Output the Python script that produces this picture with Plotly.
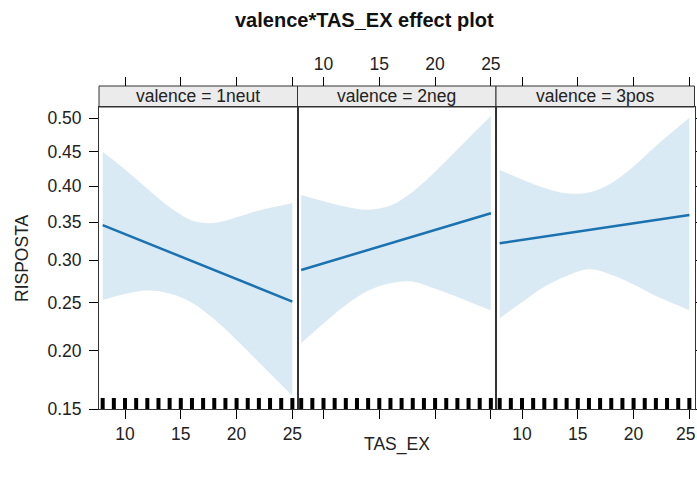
import numpy as np
import plotly.graph_objects as go

# TAS_EX grid where the fitted effect and its 95% band are shown
tas_grid = [8, 10, 12, 14, 16, 18, 20, 22, 24, 25]

# fitted probability of RISPOSTA and confidence limits, by valence level
fit_neut = [0.3459, 0.3338, 0.3219, 0.3104, 0.2990, 0.2878, 0.2769, 0.2664, 0.2560, 0.2509]
low_neut = [0.2528, 0.2596, 0.2635, 0.2602, 0.2497, 0.2315, 0.2103, 0.1891, 0.1694, 0.1603]
upp_neut = [0.4502, 0.4243, 0.3965, 0.3705, 0.3521, 0.3487, 0.3564, 0.3659, 0.3726, 0.3761]

fit_neg = [0.2880, 0.2963, 0.3047, 0.3130, 0.3217, 0.3305, 0.3394, 0.3482, 0.3573, 0.3619]
low_neg = [0.2072, 0.2272, 0.2471, 0.2633, 0.2719, 0.2739, 0.2656, 0.2560, 0.2460, 0.2412]
upp_neg = [0.3875, 0.3787, 0.3710, 0.3670, 0.3726, 0.3922, 0.4209, 0.4536, 0.4870, 0.5035]

fit_pos = [0.3217, 0.3261, 0.3305, 0.3349, 0.3394, 0.3437, 0.3482, 0.3528, 0.3573, 0.3596]
low_pos = [0.2327, 0.2501, 0.2678, 0.2807, 0.2888, 0.2823, 0.2707, 0.2573, 0.2466, 0.2412]
upp_pos = [0.4236, 0.4095, 0.3975, 0.3901, 0.3910, 0.4044, 0.4285, 0.4586, 0.4868, 0.5008]

# observed TAS_EX values (rug)
tas_obs = [8, 9, 10, 11, 12, 13, 14, 15, 16, 17, 18, 19, 20, 21, 22, 23, 24, 25]

valence_levels = ["1neut", "2neg", "3pos"]
x_ticks = [10, 15, 20, 25]
y_ticks = [0.15, 0.20, 0.25, 0.30, 0.35, 0.40, 0.45, 0.50]
y_tick_text = ["0.15", "0.20", "0.25", "0.30", "0.35", "0.40", "0.45", "0.50"]


def logit(p):
    p = np.asarray(p, dtype=float)
    return np.log(p / (1 - p))


W, H = 697, 479
FONT = "Liberation Sans, Arial, sans-serif"
FS = 17.5
TXT = "#222222"
LINE_COL = "#1a72b0"
BAND_COL = "rgba(0,114,178,0.15)"
BORDER = "#333333"

x_range = [7.67, 25.46]
y_range = [float(logit(0.15)), float(logit(0.5168))]
rug_len = 0.0656

panel_px = [(99, 297.5), (297.5, 496), (496, 694.5)]
plot_top, plot_bot, strip_top = 107, 409, 86

series = [
    (fit_neut, low_neut, upp_neut),
    (fit_neg, low_neg, upp_neg),
    (fit_pos, low_pos, upp_pos),
]

fig = go.Figure()

for i, (fit, low, upp) in enumerate(series):
    xa = "x" if i == 0 else f"x{i + 1}"
    ya = "y" if i == 0 else f"y{i + 1}"
    fig.add_trace(go.Scatter(
        x=tas_grid, y=logit(upp), mode="lines", line=dict(width=0, shape="spline"),
        hoverinfo="skip", showlegend=False, xaxis=xa, yaxis=ya))
    fig.add_trace(go.Scatter(
        x=tas_grid, y=logit(low), mode="lines", line=dict(width=0, shape="spline"),
        fill="tonexty", fillcolor=BAND_COL, hoverinfo="skip", showlegend=False,
        xaxis=xa, yaxis=ya))
    fig.add_trace(go.Scatter(
        x=tas_grid, y=logit(fit), mode="lines", line=dict(color=LINE_COL, width=2.5),
        showlegend=False, xaxis=xa, yaxis=ya))
    rx, ry = [], []
    for v in tas_obs:
        rx += [v, v, None]
        ry += [y_range[0], y_range[0] + rug_len, None]
    fig.add_trace(go.Scatter(
        x=rx, y=ry, mode="lines", line=dict(color="black", width=4),
        hoverinfo="skip", showlegend=False, xaxis=xa, yaxis=ya))
    # empty trace that attaches the tick axis drawn above each strip
    fig.add_trace(go.Scatter(x=[None], y=[None], xaxis=f"x{i + 4}", yaxis=ya,
                             showlegend=False, hoverinfo="skip"))

y_dom = [1 - plot_bot / H, 1 - plot_top / H]
tickfont = dict(family=FONT, size=FS, color=TXT)

layout = dict(
    width=W, height=H, margin=dict(l=0, r=0, t=0, b=0, autoexpand=False),
    paper_bgcolor="white", plot_bgcolor="rgba(0,0,0,0)",
    showlegend=False,
)

for i, (a, b) in enumerate(panel_px):
    k = "" if i == 0 else str(i + 1)
    layout[f"xaxis{k}"] = dict(
        domain=[a / W, b / W], range=x_range, anchor=f"y{k}",
        tickvals=x_ticks, ticks="outside", ticklen=9, tickcolor="black",
        showticklabels=(i != 1), tickfont=tickfont, automargin=False,
        showline=True, linecolor=BORDER, linewidth=1, mirror=True,
        showgrid=False, zeroline=False, fixedrange=True,
    )
    layout[f"yaxis{k}"] = dict(
        domain=y_dom, range=y_range, anchor=f"x{k}",
        tickvals=list(logit(y_ticks)), ticktext=y_tick_text,
        ticks="outside" if i != 1 else "", ticklen=9, tickcolor="black",
        side="right" if i == 2 else "left", automargin=False,
        showticklabels=(i == 0), tickfont=tickfont, ticklabelstandoff=4,
        showline=True, linecolor=BORDER, linewidth=1, mirror=True,
        showgrid=False, zeroline=False, fixedrange=True,
    )
    # ticks above the strips
    layout[f"xaxis{i + 4}"] = dict(
        overlaying="x" if i == 0 else f"x{i + 1}", anchor="free",
        position=1 - strip_top / H, side="top", range=x_range,
        tickvals=x_ticks, ticks="outside", ticklen=9, tickcolor="black",
        showticklabels=(i == 1), tickfont=tickfont, automargin=False,
        showline=False, showgrid=False, zeroline=False, fixedrange=True,
    )

shapes, annotations = [], []
for i, (a, b) in enumerate(panel_px):
    shapes.append(dict(
        type="rect", xref="paper", yref="paper",
        x0=a / W, x1=b / W, y0=1 - plot_top / H, y1=1 - strip_top / H,
        fillcolor="#ebebeb", line=dict(color=BORDER, width=1), layer="below"))
    annotations.append(dict(
        text=f"valence = {valence_levels[i]}", xref="paper", yref="paper",
        x=(a + b) / 2 / W, y=1 - (plot_top + strip_top) / 2 / H,
        showarrow=False, xanchor="center", yanchor="middle",
        font=dict(family=FONT, size=FS, color=TXT)))

# last bottom tick label of the right panel, kept inside the page edge
annotations.append(dict(
    text=str(x_ticks[-1]), xref="paper", yref="paper",
    x=1.0, y=1 - 434 / H, showarrow=False, xanchor="right", yanchor="middle",
    font=dict(family=FONT, size=FS, color=TXT)))

annotations.append(dict(
    text="<b>valence*TAS_EX effect plot</b>", xref="paper", yref="paper",
    x=364.5 / W, y=1 - 20 / H, showarrow=False, xanchor="center", yanchor="middle",
    font=dict(family=FONT, size=20, color="#111111")))
annotations.append(dict(
    text="TAS_EX", xref="paper", yref="paper",
    x=397 / W, y=1 - 444 / H, showarrow=False, xanchor="center", yanchor="middle",
    font=dict(family=FONT, size=FS, color=TXT)))
annotations.append(dict(
    text="RISPOSTA", xref="paper", yref="paper", textangle=-90,
    x=22 / W, y=1 - 258 / H, showarrow=False, xanchor="center", yanchor="middle",
    font=dict(family=FONT, size=FS, color=TXT)))

layout["shapes"] = shapes
layout["annotations"] = annotations
fig.update_layout(**layout)

fig.write_html("out.html")
